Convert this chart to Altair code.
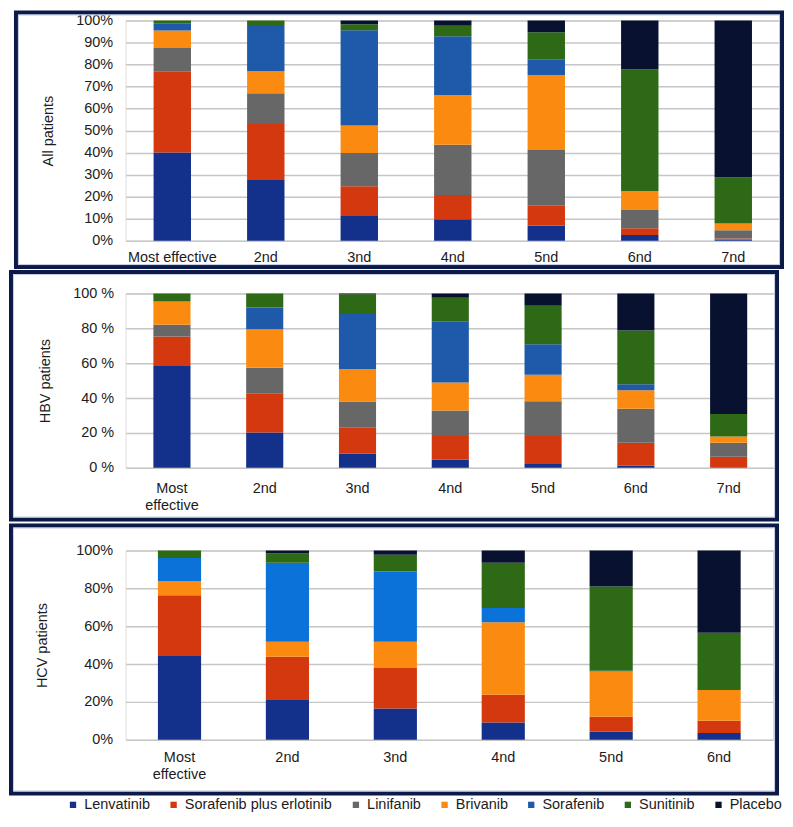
import altair as alt
import pandas as pd

drugs = ["Lenvatinib", "Sorafenib plus erlotinib", "Linifanib", "Brivanib",
         "Sorafenib", "Sunitinib", "Placebo"]
color_keys = drugs + ["Sorafenib (HCV)"]
color_range = ["#13308a", "#d4380f", "#676767", "#fb8b10",
               "#1f5aaa", "#2e6a15", "#081230", "#0b72da"]

ranks7 = ["Most effective", "2nd", "3nd", "4nd", "5nd", "6nd", "7nd"]
ranks6 = ranks7[:6]

# All patients (percent per rank)
all_lenv = [40, 27.5, 11.5, 9.7, 6.8, 2.6, 0.5]
all_sore = [37, 25.5, 13.2, 11, 9, 3, 0.5]
all_lini = [10.5, 14, 15.1, 22.9, 25.4, 8.3, 3.7]
all_briv = [8, 10, 12.5, 22.6, 33.9, 8.7, 3.1]
all_sora = [3, 20.5, 43.3, 26.7, 7.1, 0, 0]
all_suni = [1.5, 2.5, 2.7, 4.7, 12.5, 55.2, 20.9]
all_plac = [0, 0, 1.7, 2.4, 5.3, 22.2, 71.3]

# HBV patients
hbv_lenv = [58.4, 20.3, 8.2, 4.8, 2.1, 1.3, 0]
hbv_sore = [16.9, 22.5, 14.8, 13.5, 16.2, 13, 6.3]
hbv_lini = [6.8, 14.6, 15, 14.6, 19.9, 19.5, 8]
hbv_briv = [13.3, 22.1, 18.7, 16, 15.2, 10.7, 3.6]
hbv_sora = [0, 12.5, 31.5, 34.9, 17.5, 3.4, 0]
hbv_suni = [4.6, 8, 11.4, 13.7, 22.1, 30.8, 12.9]
hbv_plac = [0, 0, 0.4, 2.5, 7, 21.3, 69.2]

# HCV patients
hcv_lenv = [44.7, 21.4, 16.5, 9.1, 4.2, 3.5]
hcv_sore = [31.6, 22.5, 21.4, 14.6, 7.9, 6.5]
hcv_lini = [0, 0, 0, 0, 0, 0]
hcv_briv = [7.6, 7.9, 13.9, 38.4, 23.9, 16.3]
hcv_sora = [12.1, 41.7, 37.1, 7.5, 0.5, 0]
hcv_suni = [4, 4.9, 8.8, 23.9, 44.5, 30.2]
hcv_plac = [0, 1.6, 2.3, 6.5, 19, 43.5]


def build(ranks, series, key_override=None):
    rows = []
    for di, (drug, vals) in enumerate(zip(drugs, series)):
        key = drug
        if key_override and drug in key_override:
            key = key_override[drug]
        for r, v in zip(ranks, vals):
            rows.append({"rank": r, "drug": drug, "key": key, "order": di, "value": v})
    return pd.DataFrame(rows)


df_all = build(ranks7, [all_lenv, all_sore, all_lini, all_briv, all_sora, all_suni, all_plac])
df_hbv = build(ranks7, [hbv_lenv, hbv_sore, hbv_lini, hbv_briv, hbv_sora, hbv_suni, hbv_plac])
df_hcv = build(ranks6, [hcv_lenv, hcv_sore, hcv_lini, hcv_briv, hcv_sora, hcv_suni, hcv_plac],
               {"Sorafenib": "Sorafenib (HCV)"})

FONT = "Liberation Sans"
TXT = "#1c1c1c"
NAVY = "#0b1a48"

color_enc = alt.Color(
    "key:N",
    scale=alt.Scale(domain=color_keys, range=color_range),
    legend=alt.Legend(
        values=drugs, orient="none", direction="horizontal", title=None,
        legendX=-60, legendY=780, symbolType="square", symbolSize=40,
        symbolStrokeWidth=0, labelFont=FONT, labelFontSize=14.5,
        labelColor=TXT, columnPadding=16, labelOffset=4, padding=0,
    ),
)


def panel(df, ranks, width, height, title, tick_step, sep, xlabel_expr,
          label_pad_y, title_pad, xpad, frame):
    y_vals = list(range(0, 101, tick_step))
    bars = alt.Chart(df).mark_bar().encode(
        x=alt.X("rank:N", sort=ranks, title=None,
                scale=alt.Scale(paddingInner=0.6, paddingOuter=0.3),
                axis=alt.Axis(labelAngle=0, ticks=False, domain=False,
                              labelFontSize=14.5, labelColor=TXT, labelFont=FONT,
                              labelPadding=xpad, labelLineHeight=17,
                              labelExpr=xlabel_expr, labelBaseline="top")),
        y=alt.Y("value:Q", stack="zero", title=title,
                scale=alt.Scale(domain=[0, 100], nice=False),
                axis=alt.Axis(values=y_vals, labelExpr="datum.value + '" + sep + "%'",
                              ticks=False, domain=False, gridColor="#c6c6c6",
                              gridWidth=1.5, labelFontSize=14.5, labelColor=TXT,
                              labelFont=FONT, labelPadding=label_pad_y,
                              titleFontSize=14.5, titleFontWeight="normal",
                              titleColor=TXT, titleFont=FONT, titlePadding=title_pad)),
        color=color_enc,
        order=alt.Order("order:Q", sort="ascending"),
    )
    x1, x2, y1, y2 = frame
    outer = alt.Chart(alt.Data(values=[{"a": 1}])).mark_rect(
        fill="transparent", stroke=NAVY, strokeWidth=4
    ).encode(x=alt.value(x1), x2=alt.value(x2), y=alt.value(y1), y2=alt.value(y2))
    inner = alt.Chart(alt.Data(values=[{"a": 1}])).mark_rect(
        fill="transparent", stroke="#c3cbe0", strokeWidth=1
    ).encode(x=alt.value(x1 + 2.5), x2=alt.value(x2 - 2.5),
             y=alt.value(y1 + 2.5), y2=alt.value(y2 - 2.5))
    return alt.layer(outer, inner, bars).properties(width=width, height=height)


two_line = "datum.label == 'Most effective' ? ['Most', 'effective'] : datum.label"

p1 = panel(df_all, ranks7, 657, 221, "All patients", 10, "", "datum.label",
           13, 20, 10, (-110, 659, -8, 247.5))
p2 = panel(df_hbv, ranks7, 652, 175, "HBV patients", 20, " ", two_line,
           12, 20, 14, (-115, 654, -21.5, 227))
p3 = panel(df_hcv, ranks6, 650, 190, "HCV patients", 20, "", two_line,
           13, 26, 11, (-115, 654, -25, 244))

chart = alt.vconcat(p1, p2, p3, spacing=0).properties(
    padding=0
).configure_view(strokeWidth=0).configure(font=FONT)

chart.save("out.html", embed_options={"renderer": "svg", "actions": False})
